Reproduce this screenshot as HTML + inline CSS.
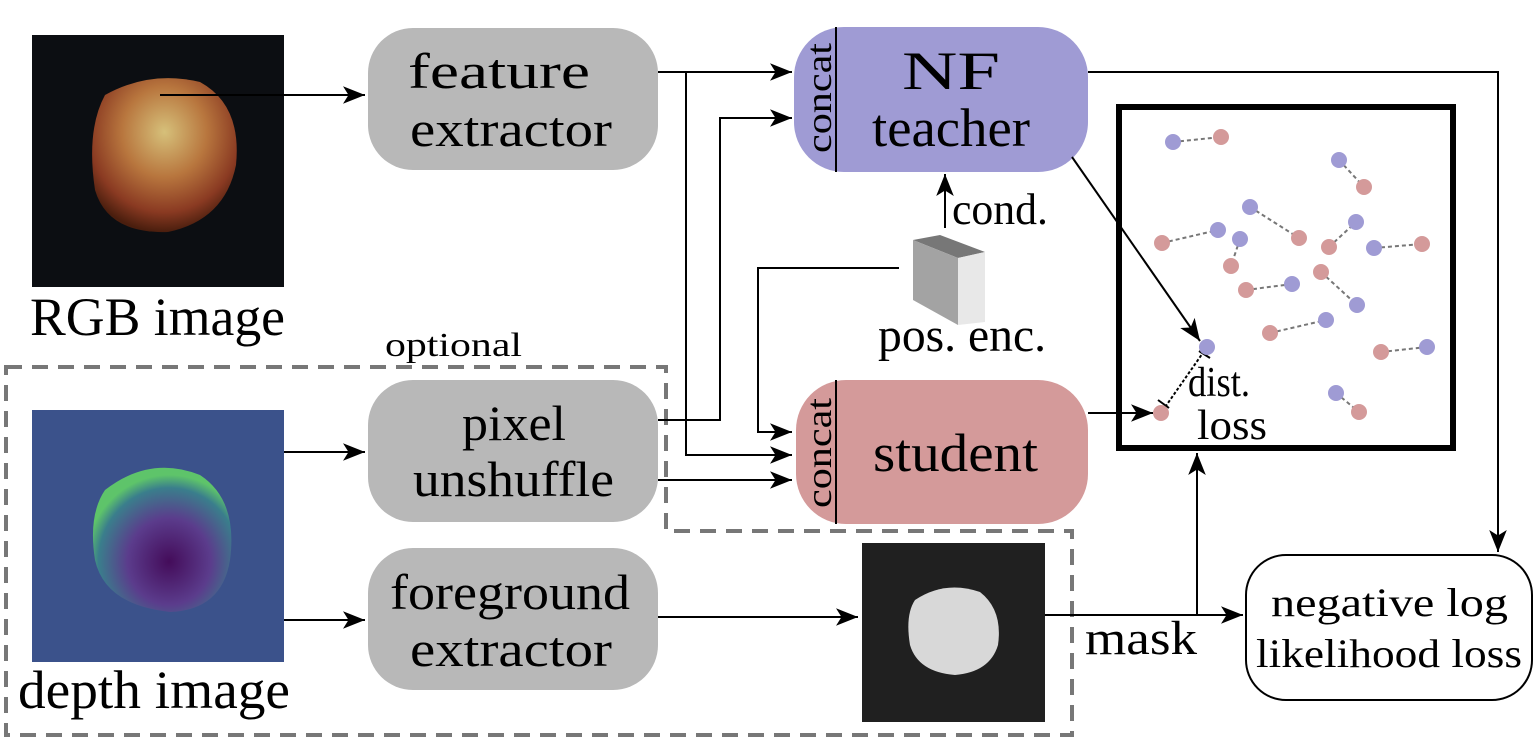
<!DOCTYPE html>
<html><head><meta charset="utf-8"><style>
html,body{margin:0;padding:0;background:#fff}
svg{display:block}
text{font-family:"Liberation Serif",serif;fill:#000}
</style></head><body>
<svg width="1536" height="737" viewBox="0 0 1536 737" xmlns="http://www.w3.org/2000/svg">
<defs>
<marker id="b" viewBox="0 0 10 10" refX="10" refY="5" markerWidth="22" markerHeight="22" markerUnits="userSpaceOnUse" orient="auto">
<path d="M0,1 L10,5 L0,9 L2.5,5 z" fill="#000"/></marker>
<radialGradient id="fruit" cx="0.5" cy="0.35" r="0.65">
<stop offset="0" stop-color="#d6c07a"/><stop offset="0.45" stop-color="#b8763e"/><stop offset="0.8" stop-color="#8a3a22"/><stop offset="1" stop-color="#4a1e0e"/></radialGradient>
<radialGradient id="dep" cx="0.55" cy="0.65" r="0.6">
<stop offset="0" stop-color="#440c5a"/><stop offset="0.5" stop-color="#5b3c8c"/><stop offset="0.85" stop-color="#3a7e8c"/><stop offset="1" stop-color="#5ec46a"/></radialGradient>
</defs>

<path d="M6,367 L666,367 L666,531 L1072,531 L1072,735 L6,735 Z" fill="none" stroke="#777" stroke-width="4" stroke-dasharray="16,10"/>
<text x="385" y="356" font-size="34" textLength="137" lengthAdjust="spacingAndGlyphs">optional</text>

<rect x="32" y="35" width="252" height="252" fill="#0c0e12"/>
<path d="M105,95 Q150,70 200,82 Q242,105 236,165 Q225,220 168,232 Q108,234 95,190 Q86,130 105,95 Z" fill="url(#fruit)"/>
<text x="30" y="335" font-size="54" textLength="255" lengthAdjust="spacingAndGlyphs">RGB image</text>

<rect x="32" y="410" width="252" height="252" fill="#3b528b"/>
<path d="M105,490 Q150,455 200,475 Q238,500 230,560 Q222,610 170,612 Q105,605 95,560 Q88,515 105,490 Z" fill="url(#dep)"/>
<text x="18" y="708" font-size="54" textLength="272" lengthAdjust="spacingAndGlyphs">depth image</text>

<rect x="368" y="28" width="290" height="142" rx="45" fill="#b8b8b8"/>
<text x="408" y="88" font-size="50" textLength="182" lengthAdjust="spacingAndGlyphs">feature</text>
<text x="410" y="146" font-size="50" textLength="202" lengthAdjust="spacingAndGlyphs">extractor</text>
<rect x="368" y="380" width="290" height="142" rx="45" fill="#b8b8b8"/>
<text x="462" y="440" font-size="50" textLength="104" lengthAdjust="spacingAndGlyphs">pixel</text>
<text x="413" y="496" font-size="50" textLength="201" lengthAdjust="spacingAndGlyphs">unshuffle</text>
<rect x="368" y="548" width="290" height="142" rx="45" fill="#b8b8b8"/>
<text x="390" y="609" font-size="50" textLength="240" lengthAdjust="spacingAndGlyphs">foreground</text>
<text x="410" y="666" font-size="50" textLength="202" lengthAdjust="spacingAndGlyphs">extractor</text>

<rect x="794" y="27" width="294" height="145" rx="50" fill="#9f9bd4"/>
<line x1="836" y1="27" x2="836" y2="172" stroke="#000" stroke-width="2"/>
<text transform="translate(831,153) rotate(-90)" font-size="36" textLength="110" lengthAdjust="spacingAndGlyphs">concat</text>
<text x="902" y="89" font-size="54" textLength="98" lengthAdjust="spacingAndGlyphs">NF</text>
<text x="872" y="146" font-size="54" textLength="158" lengthAdjust="spacingAndGlyphs">teacher</text>

<rect x="796" y="380" width="292" height="144" rx="50" fill="#d49a9a"/>
<line x1="836" y1="380" x2="836" y2="524" stroke="#000" stroke-width="2"/>
<text transform="translate(831,508) rotate(-90)" font-size="36" textLength="110" lengthAdjust="spacingAndGlyphs">concat</text>
<text x="873" y="471" font-size="54" textLength="165" lengthAdjust="spacingAndGlyphs">student</text>

<polygon points="913,240 940,235 985,252 958,258" fill="#777"/>
<polygon points="913,240 958,258 958,325 913,300" fill="#a3a3a3"/>
<polygon points="958,258 985,252 985,322 958,325" fill="#e8e8e8"/>
<text x="878" y="351" font-size="48" textLength="168" lengthAdjust="spacingAndGlyphs">pos. enc.</text>
<line x1="945" y1="228" x2="945" y2="174" stroke="#000" stroke-width="2" marker-end="url(#b)"/>
<text x="952" y="224" font-size="44" textLength="96" lengthAdjust="spacingAndGlyphs">cond.</text>

<g stroke="#000" stroke-width="2" fill="none">
<line x1="160" y1="95" x2="365" y2="95" marker-end="url(#b)"/>
<line x1="284" y1="452" x2="365" y2="452" marker-end="url(#b)"/>
<line x1="284" y1="620" x2="365" y2="620" marker-end="url(#b)"/>
<line x1="658" y1="72" x2="792" y2="72" marker-end="url(#b)"/>
<polyline points="686,72 686,455 792,455" marker-end="url(#b)"/>
<polyline points="658,420 720,420 720,118 792,118" marker-end="url(#b)"/>
<line x1="658" y1="480" x2="792" y2="480" marker-end="url(#b)"/>
<polyline points="899,268 758,268 758,432 792,432" marker-end="url(#b)"/>
<polyline points="1088,72 1498,72 1498,552" marker-end="url(#b)"/>
<line x1="1072" y1="157" x2="1200" y2="341" marker-end="url(#b)"/>
<line x1="1088" y1="413" x2="1153" y2="413" marker-end="url(#b)"/>
<line x1="658" y1="617" x2="858" y2="617" marker-end="url(#b)"/>
<line x1="1045" y1="615" x2="1243" y2="615" marker-end="url(#b)"/>
<line x1="1197" y1="615" x2="1197" y2="453" marker-end="url(#b)"/>
</g>

<rect x="1119" y="107" width="334" height="341" fill="none" stroke="#000" stroke-width="6"/>
<g stroke="#777" stroke-width="2" stroke-dasharray="4,3">
<line x1="1173" y1="142" x2="1221" y2="137"/>
<line x1="1339" y1="160" x2="1364" y2="187"/>
<line x1="1250" y1="207" x2="1299" y2="238"/>
<line x1="1162" y1="243" x2="1218" y2="230"/>
<line x1="1240" y1="239" x2="1231" y2="266"/>
<line x1="1329" y1="247" x2="1356" y2="222"/>
<line x1="1374" y1="248" x2="1422" y2="244"/>
<line x1="1321" y1="272" x2="1357" y2="305"/>
<line x1="1246" y1="290" x2="1292" y2="284"/>
<line x1="1270" y1="333" x2="1326" y2="320"/>
<line x1="1381" y1="352" x2="1427" y2="347"/>
<line x1="1336" y1="393" x2="1359" y2="412"/>
</g>
<line x1="1207" y1="347" x2="1161" y2="413" stroke="#000" stroke-width="2" stroke-dasharray="3,2"/>
<line x1="1199" y1="351" x2="1210" y2="358" stroke="#000" stroke-width="2"/>
<line x1="1158" y1="400" x2="1169" y2="408" stroke="#000" stroke-width="2"/>
<g fill="#9f9bd4">
<circle cx="1173" cy="142" r="8"/><circle cx="1339" cy="160" r="8"/><circle cx="1250" cy="207" r="8"/>
<circle cx="1218" cy="230" r="8"/><circle cx="1240" cy="239" r="8"/><circle cx="1356" cy="222" r="8"/>
<circle cx="1374" cy="248" r="8"/><circle cx="1357" cy="305" r="8"/><circle cx="1292" cy="284" r="8"/>
<circle cx="1326" cy="320" r="8"/><circle cx="1427" cy="347" r="8"/><circle cx="1336" cy="393" r="8"/>
<circle cx="1207" cy="347" r="8"/>
</g>
<g fill="#d49a9a">
<circle cx="1221" cy="137" r="8"/><circle cx="1364" cy="187" r="8"/><circle cx="1299" cy="238" r="8"/>
<circle cx="1162" cy="243" r="8"/><circle cx="1231" cy="266" r="8"/><circle cx="1329" cy="247" r="8"/>
<circle cx="1422" cy="244" r="8"/><circle cx="1321" cy="272" r="8"/><circle cx="1246" cy="290" r="8"/>
<circle cx="1270" cy="333" r="8"/><circle cx="1381" cy="352" r="8"/><circle cx="1359" cy="412" r="8"/>
<circle cx="1161" cy="413" r="8"/>
</g>
<text x="1188" y="396" font-size="42" textLength="62" lengthAdjust="spacingAndGlyphs">dist.</text>
<text x="1197" y="439" font-size="42" textLength="70" lengthAdjust="spacingAndGlyphs">loss</text>

<rect x="862" y="543" width="183" height="179" fill="#202020"/>
<path d="M915,600 Q945,580 980,592 Q1003,610 998,645 Q990,672 955,675 Q918,672 910,645 Q905,615 915,600 Z" fill="#d8d8d8"/>
<text x="1085" y="654" font-size="48" textLength="112" lengthAdjust="spacingAndGlyphs">mask</text>

<rect x="1246" y="555" width="286" height="145" rx="40" fill="#fff" stroke="#000" stroke-width="2"/>
<text x="1271" y="616" font-size="40" textLength="237" lengthAdjust="spacingAndGlyphs">negative log</text>
<text x="1256" y="667" font-size="40" textLength="266" lengthAdjust="spacingAndGlyphs">likelihood loss</text>
</svg>
</body></html>
